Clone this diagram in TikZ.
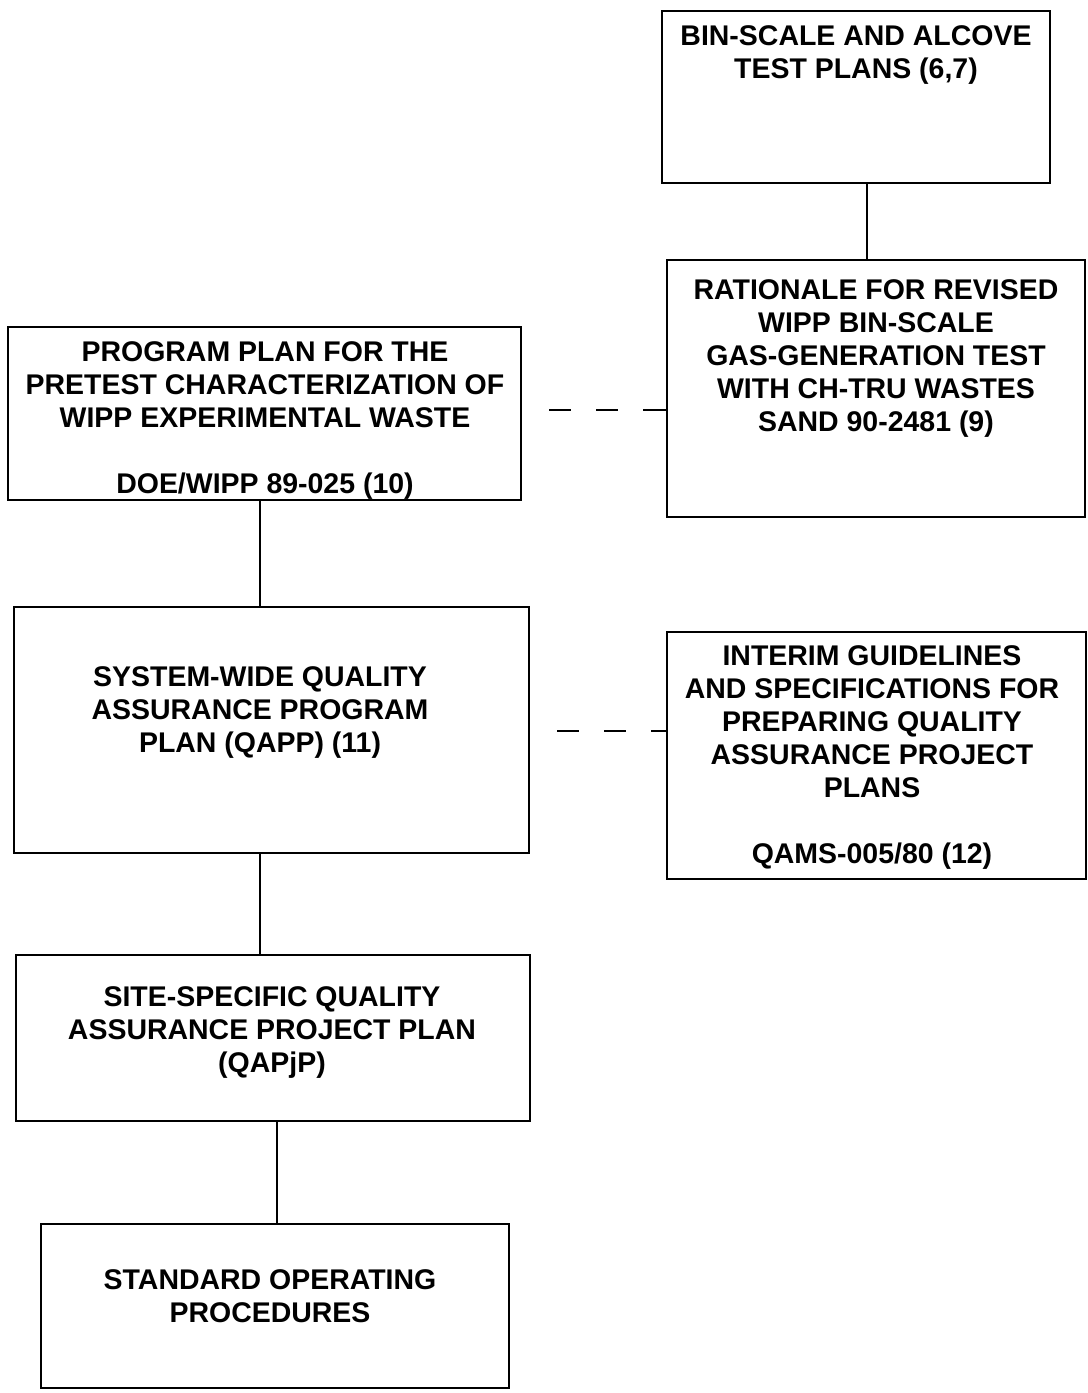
\documentclass[tikz,border=0pt]{standalone}
\usepackage{fontspec}
\setmainfont{Liberation Sans}
\usetikzlibrary{fit}
\tikzstyle{plan box}=[draw, line width=1.3pt, inner sep=0]
\tikzstyle{plan text}=[align=center, inner sep=0, anchor=north, font=\fontsize{16.2}{18.8}\selectfont\bfseries]
\tikzstyle{link}=[line width=1.3pt]
\tikzstyle{dashed link}=[line width=1.6pt, dash pattern=on 0pt off 15.4pt on 12.5pt off 14.2pt on 12.5pt off 14.2pt on 20pt off 20pt]

\begin{document}
\begin{tikzpicture}[x=0.02cm, y=-0.02cm]
      \useasboundingbox (0,0) rectangle (1088,1393);

      \node[plan box, fit={(662,11) (1050,183)}] (bins) {};
      \node[plan box, fit={(667,260) (1085,517)}] (rationale) {};
      \node[plan box, fit={(8,327) (521,500)}] (pretest) {};
      \node[plan box, fit={(14,607) (529,853)}] (qapp) {};
      \node[plan box, fit={(667,632) (1086,879)}] (interim) {};
      \node[plan box, fit={(16,955) (530,1121)}] (qapjp) {};
      \node[plan box, fit={(41,1224) (509,1388)}] (sop) {};

      \node[plan text] (bins_text) at (856, 25)
        {BIN-SCALE AND ALCOVE\\TEST PLANS (6,7)};
      \node[plan text] (rationale_text) at (876, 279)
        {RATIONALE FOR REVISED\\WIPP BIN-SCALE\\GAS-GENERATION TEST\\WITH CH-TRU WASTES\\SAND 90-2481 (9)};
      \node[plan text] (pretest_text) at (265, 341)
        {PROGRAM PLAN FOR THE\\PRETEST CHARACTERIZATION OF\\WIPP EXPERIMENTAL WASTE\\[18.8pt]DOE/WIPP 89-025 (10)};
      \node[plan text] (qapp_text) at (260, 666)
        {SYSTEM-WIDE QUALITY\\ASSURANCE PROGRAM\\PLAN (QAPP) (11)};
      \node[plan text] (interim_text) at (872, 645)
        {INTERIM GUIDELINES\\AND SPECIFICATIONS FOR\\PREPARING QUALITY\\ASSURANCE PROJECT\\PLANS\\[18.8pt]QAMS-005/80 (12)};
      \node[plan text] (qapjp_text) at (272, 986)
        {SITE-SPECIFIC QUALITY\\ASSURANCE PROJECT PLAN\\(QAPjP)};
      \node[plan text] (sop_text) at (270, 1269)
        {STANDARD OPERATING\\PROCEDURES};

      \coordinate (x_right) at (867, 0);
      \coordinate (x_left) at (260, 0);
      \coordinate (x_bottom) at (277, 0);
      \coordinate (y_upper) at (0, 410);
      \coordinate (y_lower) at (0, 731);

      \draw[link] (x_right |- bins.south) to (x_right |- rationale.north);
      \draw[link] (x_left |- pretest.south) to (x_left |- qapp.north);
      \draw[link] (x_left |- qapp.south) to (x_left |- qapjp.north);
      \draw[link] (x_bottom |- qapjp.south) to (x_bottom |- sop.north);

      \draw[dashed link] (y_upper -| pretest.east) to (y_upper -| rationale.west);
      \draw[dashed link] (y_lower -| qapp.east) to (y_lower -| interim.west);
\end{tikzpicture}
\end{document}
